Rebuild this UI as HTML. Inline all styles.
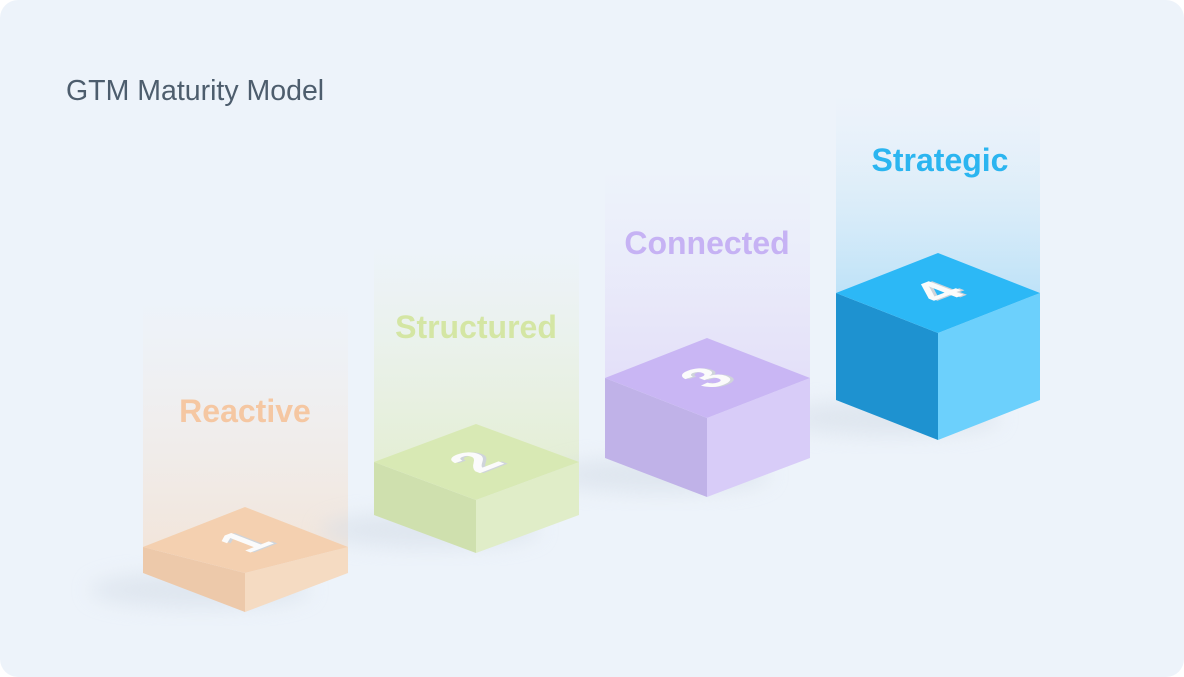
<!DOCTYPE html>
<html><head><meta charset="utf-8"><style>
html,body{margin:0;padding:0;background:#fff;}
body{width:1184px;height:677px;overflow:hidden;}
svg{display:block;}
</style></head><body>
<svg width="1184" height="677" viewBox="0 0 1184 677" xmlns="http://www.w3.org/2000/svg" font-family="Liberation Sans, sans-serif">
<defs>
<linearGradient id="g1" x1="0" y1="0" x2="0" y2="1"><stop offset="0" stop-color="#f7e6d8" stop-opacity="0"/><stop offset="1" stop-color="#f5dcc6" stop-opacity="0.6"/></linearGradient>
<linearGradient id="g2" x1="0" y1="0" x2="0" y2="1"><stop offset="0" stop-color="#e6f0d0" stop-opacity="0"/><stop offset="1" stop-color="#e0ecc4" stop-opacity="0.7"/></linearGradient>
<linearGradient id="g3" x1="0" y1="0" x2="0" y2="1"><stop offset="0" stop-color="#e4dcf8" stop-opacity="0"/><stop offset="1" stop-color="#ddd2f8" stop-opacity="0.6"/></linearGradient>
<linearGradient id="g4" x1="0" y1="0" x2="0" y2="1"><stop offset="0" stop-color="#d8ecf8" stop-opacity="0"/><stop offset="1" stop-color="#b8e0f8" stop-opacity="0.9"/></linearGradient>
<filter id="blur" x="-50%" y="-50%" width="200%" height="200%"><feGaussianBlur stdDeviation="10"/></filter>
</defs>
<rect x="0" y="0" width="1184" height="677" rx="18" fill="#edf3fa"/>
<text x="66" y="100" font-size="28.5" fill="#4d5d6d">GTM Maturity Model</text>

<rect x="143" y="300" width="205" height="250" fill="url(#g1)"/>
<rect x="374" y="245" width="205" height="220" fill="url(#g2)"/>
<rect x="605" y="170" width="205" height="210" fill="url(#g3)"/>
<rect x="836" y="95" width="204" height="200" fill="url(#g4)"/>

<ellipse cx="200" cy="590" rx="110" ry="18" fill="#d6dee8" filter="url(#blur)" opacity="0.6"/>
<ellipse cx="430" cy="530" rx="110" ry="18" fill="#d6dee8" filter="url(#blur)" opacity="0.6"/>
<ellipse cx="660" cy="475" rx="110" ry="18" fill="#d6dee8" filter="url(#blur)" opacity="0.6"/>
<ellipse cx="890" cy="418" rx="110" ry="18" fill="#d6dee8" filter="url(#blur)" opacity="0.6"/>

<polygon points="143,547 245,573 245,612 143,573" fill="#edc9aa"/>
<polygon points="245,573 348,547 348,573 245,612" fill="#f5dbc2"/>
<polygon points="143,547 245,507 348,547 245,573" fill="#f4d0b0"/>
<g transform="translate(245,542) matrix(0.9,-0.35,0.9,0.35,0,0)"><text x="2" y="20" font-size="56" font-weight="bold" fill="#cfd4da" text-anchor="middle">1</text><text x="0" y="18" font-size="56" font-weight="bold" fill="#fbfbfb" text-anchor="middle">1</text></g>

<polygon points="374,462 476,500 476,553 374,515" fill="#cfe0ae"/>
<polygon points="476,500 579,462 579,515 476,553" fill="#e0edc8"/>
<polygon points="374,462 476,424 579,462 476,500" fill="#d8e9b4"/>
<g transform="translate(476,462) matrix(0.9,-0.35,0.9,0.35,0,0)"><text x="2" y="20" font-size="56" font-weight="bold" fill="#cfd4da" text-anchor="middle">2</text><text x="0" y="18" font-size="56" font-weight="bold" fill="#fbfbfb" text-anchor="middle">2</text></g>

<polygon points="605,378 707,418 707,497 605,458" fill="#c0b2e8"/>
<polygon points="707,418 810,378 810,458 707,497" fill="#d8ccf8"/>
<polygon points="605,378 707,338 810,378 707,418" fill="#c9b6f4"/>
<g transform="translate(707,378) matrix(0.9,-0.35,0.9,0.35,0,0)"><text x="2" y="20" font-size="56" font-weight="bold" fill="#cfd4da" text-anchor="middle">3</text><text x="0" y="18" font-size="56" font-weight="bold" fill="#fbfbfb" text-anchor="middle">3</text></g>

<polygon points="836,293 938,333 938,440 836,400" fill="#1e92d0"/>
<polygon points="938,333 1040,293 1040,400 938,440" fill="#6cd0fc"/>
<polygon points="836,293 938,253 1040,293 938,333" fill="#2cb8f6"/>
<g transform="translate(938,292) matrix(0.9,-0.35,0.9,0.35,0,0)"><text x="2" y="20" font-size="56" font-weight="bold" fill="#cfd4da" text-anchor="middle">4</text><text x="0" y="18" font-size="56" font-weight="bold" fill="#fbfbfb" text-anchor="middle">4</text></g>

<text x="245" y="422" font-size="32" font-weight="bold" fill="#f5c7a2" text-anchor="middle">Reactive</text>
<text x="476" y="338" font-size="32" font-weight="bold" fill="#d4e6a4" text-anchor="middle">Structured</text>
<text x="707" y="254" font-size="32" font-weight="bold" fill="#c6b2f4" text-anchor="middle">Connected</text>
<text x="940" y="171" font-size="32" font-weight="bold" fill="#2bb5f0" text-anchor="middle">Strategic</text>
</svg>
</body></html>
